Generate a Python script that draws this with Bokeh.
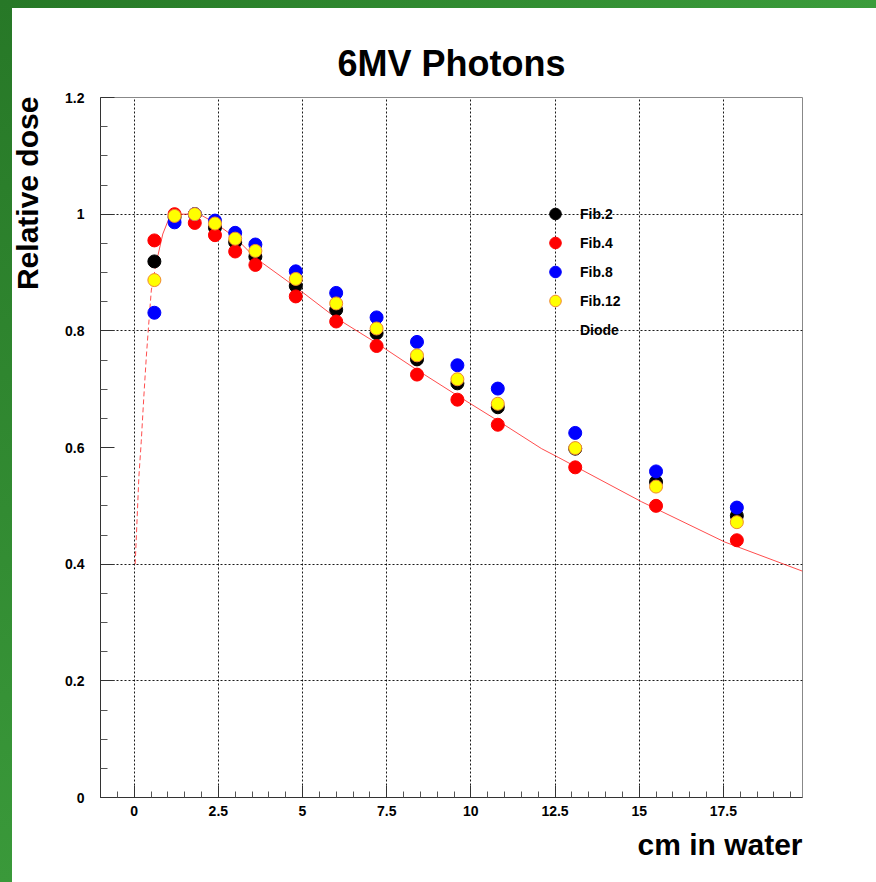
import numpy as np
from bokeh.plotting import figure
from bokeh.models import Range1d, FixedTicker, Title, Legend, LegendItem
from bokeh.layouts import column
from bokeh.embed import file_html
from bokeh.resources import INLINE

# ---------------- data ----------------
depth = [0.6, 1.2, 1.8, 2.4, 3.0, 3.6, 4.8, 6.0, 7.2, 8.4, 9.6, 10.8, 13.1, 15.5, 17.9]
fib2 = [0.919, 0.995, 1.000, 0.977, 0.952, 0.927, 0.877, 0.836, 0.796, 0.751, 0.710, 0.669, 0.598, 0.541, 0.483]
fib4 = [0.955, 1.000, 0.985, 0.964, 0.936, 0.913, 0.859, 0.816, 0.774, 0.725, 0.682, 0.639, 0.566, 0.500, 0.441]
fib8 = [0.831, 0.986, 1.000, 0.989, 0.968, 0.948, 0.902, 0.865, 0.823, 0.781, 0.741, 0.701, 0.625, 0.559, 0.497]
fib12 = [0.887, 0.997, 1.000, 0.984, 0.958, 0.937, 0.889, 0.847, 0.804, 0.758, 0.717, 0.675, 0.599, 0.533, 0.472]

diode_x = [0.03, 0.14, 0.21, 0.29, 0.36, 0.43, 0.51, 0.65, 0.85, 1.05, 1.3, 1.6, 2.0, 2.4, 3.0, 3.6,
           4.8, 6.0, 7.2, 8.4, 9.6, 10.8, 12.1, 12.6, 15.07, 17.54, 19.85]
diode_y = [0.40, 0.55, 0.61, 0.69, 0.755, 0.81, 0.87, 0.915, 0.966, 0.995, 1.0, 1.0, 0.998, 0.985, 0.96, 0.925,
           0.875, 0.822, 0.779, 0.733, 0.689, 0.646, 0.598, 0.583, 0.507, 0.438, 0.388]

x_ticks = [0, 2.5, 5, 7.5, 10, 12.5, 15, 17.5]
x_tick_labels = ["0", "2.5", "5", "7.5", "10", "12.5", "15", "17.5"]
y_ticks = [0, 0.2, 0.4, 0.6, 0.8, 1.0, 1.2]
y_tick_labels = ["0", "0.2", "0.4", "0.6", "0.8", "1", "1.2"]
y_grid_ticks = [0.2, 0.4, 0.8, 1.0]

series_names = ["Fib.2", "Fib.4", "Fib.8", "Fib.12"]
series_colors = ["black", "red", "blue", "yellow"]

FONT = "Liberation Sans"

p = figure(width=876, height=882,
           x_range=Range1d(-1, 19.85), y_range=Range1d(0, 1.2),
           output_backend="svg", toolbar_location=None,
           min_border_left=100, min_border_right=74, min_border_top=97, min_border_bottom=85,
           background_fill_color="white", border_fill_color=None)

p.outline_line_color = "#888888"
p.outline_line_width = 1

# title
p.title = Title(text="6MV Photons", align="center", text_font=FONT, text_font_style="bold",
                text_font_size="36px", text_color="black", standoff=27)

# x-axis title (right aligned, below)
p.add_layout(Title(text="cm in water", align="right", text_font=FONT, text_font_style="bold",
                   text_font_size="30px", text_color="black", standoff=15), "below")

# ticks
x_minor = [v for v in np.arange(-1.0, 19.85, 0.5) if v not in x_ticks]
y_minor = [round(v, 2) for v in np.arange(0, 1.2001, 0.05) if round(v, 2) not in y_ticks]
p.xaxis.ticker = FixedTicker(ticks=x_ticks, minor_ticks=x_minor)
p.yaxis.ticker = FixedTicker(ticks=y_ticks, minor_ticks=y_minor)
p.xaxis.major_label_overrides = dict(zip(x_ticks, x_tick_labels))
p.yaxis.major_label_overrides = dict(zip(y_ticks, y_tick_labels))

for ax, tin, mtin, standoff in ((p.xaxis, 12, 6, 8), (p.yaxis, 14, 7, 16)):
    ax.major_tick_in = tin
    ax.major_tick_out = 0
    ax.minor_tick_in = mtin
    ax.minor_tick_out = 0
    ax.axis_line_color = "#333333"
    ax.major_tick_line_color = "#333333"
    ax.minor_tick_line_color = "#555555"
    ax.major_label_text_font = FONT
    ax.major_label_text_font_style = "bold"
    ax.major_label_text_font_size = "14px"
    ax.major_label_text_color = "black"
    ax.major_label_standoff = standoff

# y-axis title: anchored at the top end of the axis; non-breaking padding after the
# text shifts the visible words so that they hang down from the top of the frame
p.yaxis.axis_label = "Relative dose" + "\u00a0" * 23
p.yaxis.axis_label_align = "end"
p.yaxis.axis_label_standoff = 18
p.yaxis.axis_label_text_font = FONT
p.yaxis.axis_label_text_font_style = "bold"
p.yaxis.axis_label_text_font_size = "30px"
p.yaxis.axis_label_text_color = "black"

# grid
p.xgrid.ticker = FixedTicker(ticks=x_ticks)
p.ygrid.ticker = FixedTicker(ticks=y_grid_ticks)
for g in (p.xgrid, p.ygrid):
    g.grid_line_color = "black"
    g.grid_line_dash = "2 2"
    g.grid_line_width = 1
    g.grid_line_alpha = 0.9

# diode curve (steep build-up part dashed, rest solid)
split = 8
p.line(diode_x[:split], diode_y[:split], line_color="red", line_width=1, line_alpha=0.7, line_dash="5 3")
diode_r = p.line(diode_x[split - 1:], diode_y[split - 1:], line_color="red", line_width=1, line_alpha=0.7)

renderers = []
for vals, col in zip([fib2, fib4, fib8, fib12], series_colors):
    lc = "#f08a30" if col == "yellow" else col
    r = p.scatter(depth, vals, size=13, fill_color=col, line_color=lc, line_width=1)
    renderers.append(r)

dummy = p.scatter([], [], size=1, fill_alpha=0, line_alpha=0)

items = [LegendItem(label=n, renderers=[r]) for n, r in zip(series_names, renderers)]
items.append(LegendItem(label="Diode", renderers=[dummy]))
legend = Legend(items=items, location=(440, 453), orientation="vertical", padding=0, margin=0,
                spacing=0, glyph_width=30, glyph_height=29, label_height=29, label_standoff=10,
                background_fill_alpha=0, border_line_alpha=0,
                label_text_font=FONT, label_text_font_style="bold", label_text_font_size="14px",
                label_text_color="black")
p.add_layout(legend)

page_bg = ("linear-gradient(to bottom, #277827, #3a993a) left top / 12px 100% no-repeat, "
           "linear-gradient(to right, #267826, #3b9c3b) left top / 100% 8px no-repeat, #ffffff")
page = column(p, styles={"background": page_bg})

open("out.html", "w").write(file_html(page, INLINE))
